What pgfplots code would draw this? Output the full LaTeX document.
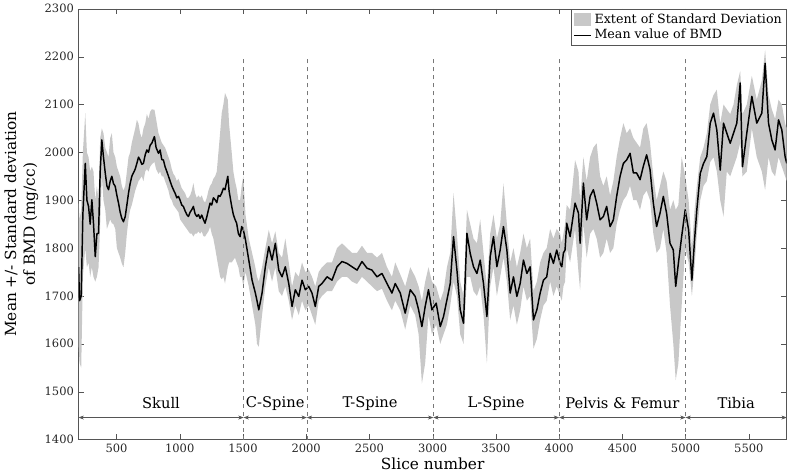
\documentclass[border=0pt]{standalone}
\usepackage{fontspec}
\setmainfont{DejaVu Serif}
\usepackage{pgfplots}
\usepackage{pgfplotstable}
\pgfplotsset{compat=1.18}
\usepgfplotslibrary{fillbetween}
\usetikzlibrary{arrows.meta}

\definecolor{bandgray}{RGB}{200,200,200}
\definecolor{axgray}{RGB}{85,85,85}
\definecolor{dashgray}{RGB}{120,120,120}

% slice, mean, mean-sd, mean+sd
\pgfplotstableread{
x m lo hi
200 1760 1600 1900
208 1690 1560 1860
221 1700 1550 1880
234 1870 1740 2000
253 1977 1800 2082
266 1900 1760 2000
279 1887 1770 1990
292 1850 1740 1960
305 1901 1760 1970
318 1852 1740 1960
332 1782 1730 1900
345 1830 1740 1930
358 1831 1760 1900
371 1960 1850 2030
384 2026 1950 2050
397 1990 1900 2040
411 1957 1880 2010
424 1930 1840 2000
437 1922 1850 1990
450 1940 1860 2030
463 1950 1852 2040
476 1935 1850 2000
490 1929 1840 1990
503 1910 1800 1970
516 1894 1790 1960
529 1875 1780 1950
542 1862 1768 1930
555 1855 1760 1920
569 1866 1790 1930
582 1890 1830 1960
595 1915 1860 1990
608 1935 1880 2000
621 1950 1890 2020
648 1965 1920 2050
661 1977 1930 2068
674 1990 1940 2060
687 1984 1945 2040
700 1975 1950 2030
713 1977 1940 2050
727 1995 1960 2060
740 2005 1965 2080
753 2000 1960 2070
766 2015 1970 2085
779 2019 1975 2090
800 2033 1980 2089
813 2010 1965 2070
832 1998 1955 2040
845 2005 1960 2030
858 1985 1950 2020
871 1984 1950 2015
884 1970 1940 2010
898 1960 1930 2000
911 1950 1920 1990
924 1940 1905 1980
937 1930 1900 1965
950 1922 1890 1955
963 1915 1885 1950
977 1905 1880 1940
990 1908 1875 1945
1003 1900 1860 1935
1016 1890 1855 1925
1029 1887 1850 1920
1042 1878 1845 1915
1056 1870 1840 1905
1069 1866 1835 1905
1082 1875 1830 1910
1095 1880 1830 1920
1108 1887 1824 1936
1121 1872 1830 1915
1135 1866 1830 1905
1148 1870 1835 1910
1161 1862 1830 1905
1174 1869 1835 1910
1187 1860 1825 1900
1200 1852 1824 1895
1214 1865 1830 1905
1227 1880 1835 1920
1240 1894 1845 1930
1253 1890 1830 1935
1266 1905 1820 1945
1280 1901 1800 1950
1293 1895 1780 1960
1306 1910 1760 2000
1319 1908 1740 2040
1332 1915 1735 2082
1345 1925 1740 2100
1358 1922 1726 2124
1380 1950 1760 2110
1390 1920 1770 2060
1411 1887 1770 2000
1424 1870 1775 1960
1437 1860 1780 1940
1450 1852 1770 1925
1464 1830 1760 1900
1477 1824 1740 1900
1490 1845 1740 1930
1503 1838 1720 1950
1520 1817 1750 1870
1546 1775 1720 1820
1572 1733 1680 1790
1598 1706 1640 1760
1611 1690 1600 1740
1625 1671 1594 1730
1651 1706 1660 1760
1677 1761 1720 1800
1704 1803 1760 1838
1730 1775 1730 1810
1756 1810 1760 1835
1783 1754 1710 1790
1809 1740 1700 1780
1835 1761 1720 1820
1862 1726 1690 1770
1888 1678 1650 1720
1914 1713 1680 1750
1941 1699 1660 1740
1967 1733 1690 1770
1993 1713 1670 1750
2020 1720 1680 1755
2046 1706 1660 1740
2072 1678 1640 1720
2099 1720 1690 1750
2125 1726 1700 1760
2165 1740 1710 1770
2204 1733 1710 1770
2244 1761 1730 1800
2283 1772 1740 1810
2323 1768 1740 1800
2362 1761 1730 1790
2402 1754 1725 1790
2441 1772 1740 1805
2481 1758 1730 1790
2520 1754 1720 1790
2560 1740 1710 1780
2599 1747 1715 1790
2639 1726 1690 1760
2678 1706 1670 1740
2704 1726 1690 1770
2744 1706 1670 1745
2783 1664 1630 1720
2823 1713 1680 1760
2862 1699 1660 1740
2889 1671 1620 1720
2915 1636 1517 1690
2941 1678 1560 1730
2967 1713 1660 1760
2994 1671 1620 1730
3028 1685 1640 1720
3060 1636 1600 1690
3086 1657 1620 1710
3113 1692 1640 1760
3139 1726 1680 1790
3165 1824 1730 1915
3192 1754 1700 1830
3218 1671 1620 1730
3244 1643 1600 1700
3271 1831 1740 1880
3297 1789 1740 1850
3323 1761 1710 1820
3350 1747 1700 1810
3376 1775 1720 1860
3402 1726 1660 1790
3429 1657 1559 1720
3455 1782 1720 1830
3481 1824 1760 1870
3508 1761 1700 1820
3534 1796 1740 1850
3560 1845 1780 1935
3587 1796 1730 1850
3613 1706 1650 1770
3639 1740 1680 1800
3666 1699 1640 1760
3692 1726 1670 1790
3718 1775 1720 1830
3745 1747 1690 1800
3771 1761 1700 1820
3797 1650 1590 1710
3824 1671 1610 1730
3850 1706 1650 1770
3876 1733 1680 1790
3902 1740 1690 1800
3929 1789 1730 1840
3955 1768 1700 1820
3981 1796 1720 1840
4008 1768 1700 1830
4021 1761 1690 1810
4034 1790 1720 1830
4047 1796 1730 1850
4060 1852 1800 1890
4087 1824 1770 1880
4126 1894 1840 1984
4153 1873 1750 1960
4166 1810 1712 1900
4192 1936 1850 1990
4218 1859 1780 1940
4245 1908 1830 1990
4271 1922 1840 2010
4297 1894 1820 2019
4324 1859 1780 1950
4350 1866 1790 1930
4376 1887 1820 1950
4403 1845 1790 1910
4429 1859 1800 1940
4455 1908 1850 1990
4482 1950 1880 2030
4508 1977 1900 2061
4534 1984 1910 2040
4561 1998 1930 2050
4587 1957 1900 2030
4613 1957 1900 2020
4640 1943 1880 2010
4666 1971 1910 2050
4692 1995 1920 2061
4719 1964 1900 2020
4745 1894 1830 1950
4771 1845 1790 1900
4798 1873 1800 1930
4824 1908 1840 1960
4850 1873 1790 1940
4877 1810 1680 1880
4903 1796 1600 1900
4922 1720 1524 1880
4943 1768 1559 1890
4969 1824 1680 1991
4997 1880 1800 1950
5024 1838 1770 1900
5050 1733 1700 1800
5071 1817 1760 1880
5089 1880 1830 1930
5116 1956 1900 1990
5142 1977 1930 2010
5168 1991 1940 2040
5195 2061 1980 2100
5221 2082 1990 2120
5247 2047 1960 2131
5274 1963 1900 2060
5300 2061 1866 2100
5326 2040 1960 2090
5353 2019 1950 2080
5379 2040 1970 2100
5405 2061 1990 2140
5432 2145 2020 2170
5450 1970 1950 2080
5484 2040 1960 2100
5524 2117 2050 2160
5563 2061 1990 2110
5603 2082 1960 2150
5629 2186 1921 2214
5656 2061 1990 2120
5682 2026 1960 2090
5708 2005 1950 2070
5735 2068 1990 2110
5761 2047 1970 2100
5787 1991 1950 2060
5800 1977 1940 2050
}\bmd

\begin{document}
\begin{tikzpicture}
\begin{axis}[
    scale only axis,
    width=531pt, height=323pt,
    xmin=200, xmax=5800,
    ymin=1400, ymax=2300,
    xtick={500,1000,...,5500},
    ytick={1400,1500,...,2300},
    tick align=inside,
    major tick length=4pt,
    axis line style={axgray},
    tick style={axgray},
    /pgf/number format/1000 sep={},
    /pgf/number format/assume math mode=true,
    tick label style={font=\fontsize{8.6}{10}\selectfont, text=black!85},
    label style={font=\fontsize{11.5}{14}\selectfont},
    xlabel={Slice number},
    ylabel={Mean +/- Standard deviation\\of BMD (mg/cc)},
    ylabel style={align=center, yshift=-2pt},
    xlabel style={yshift=3pt},
    legend style={at={(1,1)}, anchor=north east, draw=axgray,
        font=\fontsize{9.5}{11}\selectfont, inner sep=1.5pt,
        row sep=-1pt, legend cell align=left},
]
\addplot[name path=hi, draw=none, forget plot] table[x=x, y=hi] {\bmd};
\addplot[name path=lo, draw=none, forget plot] table[x=x, y=lo] {\bmd};
\addplot[bandgray, forget plot] fill between[of=hi and lo];

\addplot[black, line width=1.1pt, line join=round, forget plot] table[x=x, y=m] {\bmd};

% region boundaries
\foreach \b in {1505,2005,3005,4000,5000} {
  \edef\tmp{\noexpand\addplot[dashgray, dashed, forget plot] coordinates {(\b,1400) (\b,2200)};}
  \tmp
}

% region arrows
\foreach \a/\b in {200/1505,1505/2005,2005/3005,3005/4000,4000/5000,5000/5800} {
  \edef\tmp{\noexpand\addplot[axgray, {Stealth[length=4pt,width=3pt]}-{Stealth[length=4pt,width=3pt]}, forget plot] coordinates {(\a,1446) (\b,1446)};}
  \tmp
}

\node[font=\fontsize{11}{13}\selectfont] at (axis cs:852,1476) {Skull};
\node[font=\fontsize{11}{13}\selectfont] at (axis cs:1755,1476) {C-Spine};
\node[font=\fontsize{11}{13}\selectfont] at (axis cs:2505,1476) {T-Spine};
\node[font=\fontsize{11}{13}\selectfont] at (axis cs:3502,1476) {L-Spine};
\node[font=\fontsize{11}{13}\selectfont] at (axis cs:4500,1476) {Pelvis \& Femur};
\node[font=\fontsize{11}{13}\selectfont] at (axis cs:5400,1476) {Tibia};

\addlegendimage{legend image code/.code={\fill[bandgray] (0pt,-4.5pt) rectangle (12pt,4.5pt);}}
\addlegendentry{Extent of Standard Deviation}
\addlegendimage{legend image code/.code={\draw[black, line width=0.8pt] (0pt,0pt) -- (13pt,0pt);}}
\addlegendentry{Mean value of BMD}
\end{axis}
\end{tikzpicture}
\end{document}
